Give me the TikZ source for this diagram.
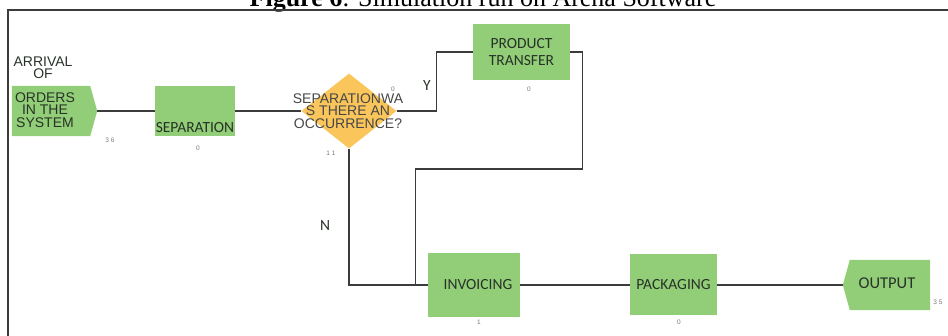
\documentclass[tikz,border=0pt]{standalone}
\usepackage{fontspec}
\setmainfont{Liberation Serif}
\setsansfont{Liberation Sans}
\newfontfamily\boxfont{Carlito}
\usetikzlibrary{shapes.geometric,calc}
\definecolor{boxgreen}{RGB}{146,206,120}
\definecolor{decyellow}{RGB}{250,198,92}
\definecolor{linegray}{RGB}{60,60,60}
\definecolor{txtgray}{RGB}{40,50,40}
\definecolor{numgray}{RGB}{120,120,120}
\tikzset{
  procbox/.style={fill=boxgreen, draw=none, minimum width=#1, inner sep=0pt, font=\boxfont\fontsize{15.5}{17}\selectfont, text=txtgray, align=center},
  flowline/.style={draw=linegray, line width=1.3pt},
  tinynum/.style={font=\sffamily\fontsize{6.5}{7}\selectfont, text=numgray, inner sep=0pt},
  sanstxt/.style={font=\sffamily\fontsize{14}{12.5}\selectfont, text=txtgray, align=center, inner sep=0pt},
  branchlbl/.style={font=\boxfont\fontsize{15.5}{17}\selectfont, text=txtgray, inner sep=0pt}
}
\begin{document}
\begin{tikzpicture}[x=1pt,y=-1pt]
\useasboundingbox (0,0) rectangle (948,336);
\clip (0,0) rectangle (948,336);
% title and frame
\node[font=\fontsize{26}{28}\selectfont, anchor=base, inner sep=0pt] (title) at (483,7) {\textbf{Figure 6}: Simulation run on Arena Software};
\draw[line width=1.2pt, draw=linegray] (8,340) -- (8,10) -- (952,10);
% arrival
\node[minimum width=85, minimum height=50, inner sep=0pt] (arr) at (54.5,111) {};
\fill[boxgreen] (arr.north west) -- ($(arr.north east)+(-7,0)$) -- (arr.east) -- ($(arr.south east)+(-7,0)$) -- (arr.south west) -- cycle;
\node[sanstxt] (arrtop) at (43,68) {ARRIVAL\\OF};
\node[sanstxt] (arrin) at (45,110) {ORDERS\\IN THE\\SYSTEM};
\node[tinynum] (n1) at (110,140) {3 6};
% separation
\node[procbox=80, minimum height=50] (sep) at (195,111) {};
\node[procbox=0] (sepl) at (195,128) {SEPARATION};
\node[tinynum] (n2) at (198,148) {0};
% decision
\node[diamond, fill=decyellow, minimum width=95, minimum height=75, inner sep=0pt] (dec) at (349,111) {};
\node[sanstxt, text=black!72] (dect) at (348,111) {SEPARATIONWA\\S THERE AN\\OCCURRENCE?};
\node[tinynum] (n3) at (393,89) {0};
\node[tinynum] (n4) at (331,153) {1 1};
% product transfer
\node[procbox=97, minimum height=56] (pt) at (521.5,52) {PRODUCT\\TRANSFER};
\node[tinynum] (n5) at (529,89) {0};
% invoicing
\node[procbox=92, minimum height=64] (inv) at (474,285) {\hspace*{8pt}INVOICING};
\node[tinynum] (n6) at (479,322) {1};
% packaging
\node[procbox=87, minimum height=61] (pack) at (673.5,285) {\raisebox{-4pt}{PACKAGING}};
\node[tinynum] (n7) at (679,322) {0};
% output
\node[minimum width=87, minimum height=50, inner sep=0pt] (out) at (886.5,285) {};
\fill[boxgreen] (out.west) -- ($(out.north west)+(7,0)$) -- (out.north east) -- (out.south east) -- ($(out.south west)+(7,0)$) -- cycle;
\node[procbox=0, font=\boxfont\fontsize{16.5}{18}\selectfont] (outl) at (887,283) {OUTPUT};
\node[tinynum] (n8) at (938,302) {3 5};
% connectors
\draw[flowline] (arr.east) -- (sep.west);
\draw[flowline] (sep.east) -- (dec.west);
\draw[flowline] (dec.east) -- ++(40,0) |- (pt.west);
\draw[flowline] (pt.east) -- ++(12,0) -- ++(0,117) -| ($(inv.west)+(-12,0)$) -- (inv.west);
\draw[flowline] (dec.south) |- (inv.west);
\draw[flowline] (inv.east) -- (pack.west);
\draw[flowline] (pack.east) -- (out.west);
% branch labels
\node[branchlbl] (ylbl) at (427,86) {Y};
\node[branchlbl] (nlbl) at (325,226) {N};
\end{tikzpicture}
\end{document}
